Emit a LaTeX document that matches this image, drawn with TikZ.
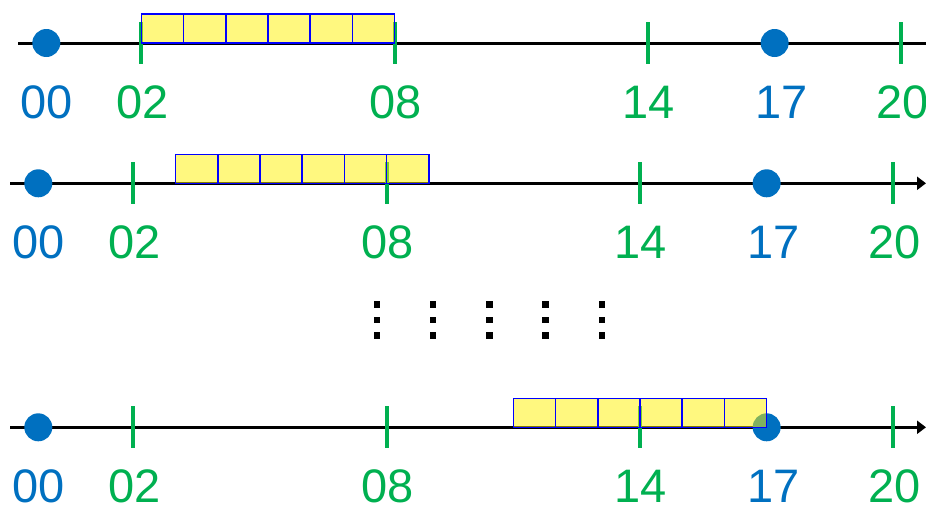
\documentclass[tikz,border=0pt]{standalone}
\usepackage{fontspec}
\setmainfont{Liberation Sans}
\usetikzlibrary{arrows.meta,calc}
\definecolor{ptblue}{HTML}{0070C0}
\definecolor{ptgreen}{HTML}{00B050}

\begin{document}
\begin{tikzpicture}[x=1pt,y=-1pt,
   axis/.style={line width=3pt,-{Triangle[length=9pt,width=13pt]}},
   tickmark/.style={ptgreen,line width=4pt},
   dot/.style={circle,fill=ptblue,inner sep=0pt,minimum size=28pt},
   cell/.style={draw=blue,line width=1.5pt,fill=yellow,fill opacity=0.5,
      inner sep=0pt,minimum width=42.22pt,minimum height=29pt},
   lbl/.style={anchor=base,inner sep=0pt,font=\fontsize{47}{50}\selectfont}]
  \useasboundingbox (0,0) rectangle (926,506);
  \clip (0,0) rectangle (926,506);
  \foreach \r/\dx/\ay/\bx in {1/8/43/2, 2/0/183.3/3, 3/0/427.3/11} {
    \coordinate (s\r) at (10+\dx,\ay);
    \coordinate (e\r) at (926+3*\dx,\ay);
    \draw[axis] (s\r) -- (e\r);
    \foreach \t/\n in {2/02, 8/08, 14/14, 20/20} {
      \coordinate (t\r\n) at (48.9+\dx+\t*42.22,\ay);
      \draw[tickmark] ($(t\r\n)+(0,-21)$) -- ($(t\r\n)+(0,21)$);
      \node[lbl,ptgreen] (l\r\n) at ($(t\r\n)+(1,75)$) {\n};
    }
    \node[dot] (z\r) at (38.3+\dx,\ay) {};
    \node[dot] (d\r) at (48.9+\dx+17*42.22,\ay) {};
    \node[lbl,ptblue] (lz\r) at ($(z\r)+(0,75)$) {00};
    \node[lbl,ptblue] (ld\r) at ($(d\r)+(7,75)$) {17};
    \foreach \c in {0,...,5}
      \node[cell] (b\r\c) at (48.9+\dx+\bx*42.22+\c*42.22+21.11,\ay-14.5) {};
  }
  \foreach \i in {0,...,4}
    \foreach \j in {0,1,2}
      \fill (373.5+\i*56.25,301+\j*15.5) rectangle ++(6.5,6.5);
\end{tikzpicture}
\end{document}
